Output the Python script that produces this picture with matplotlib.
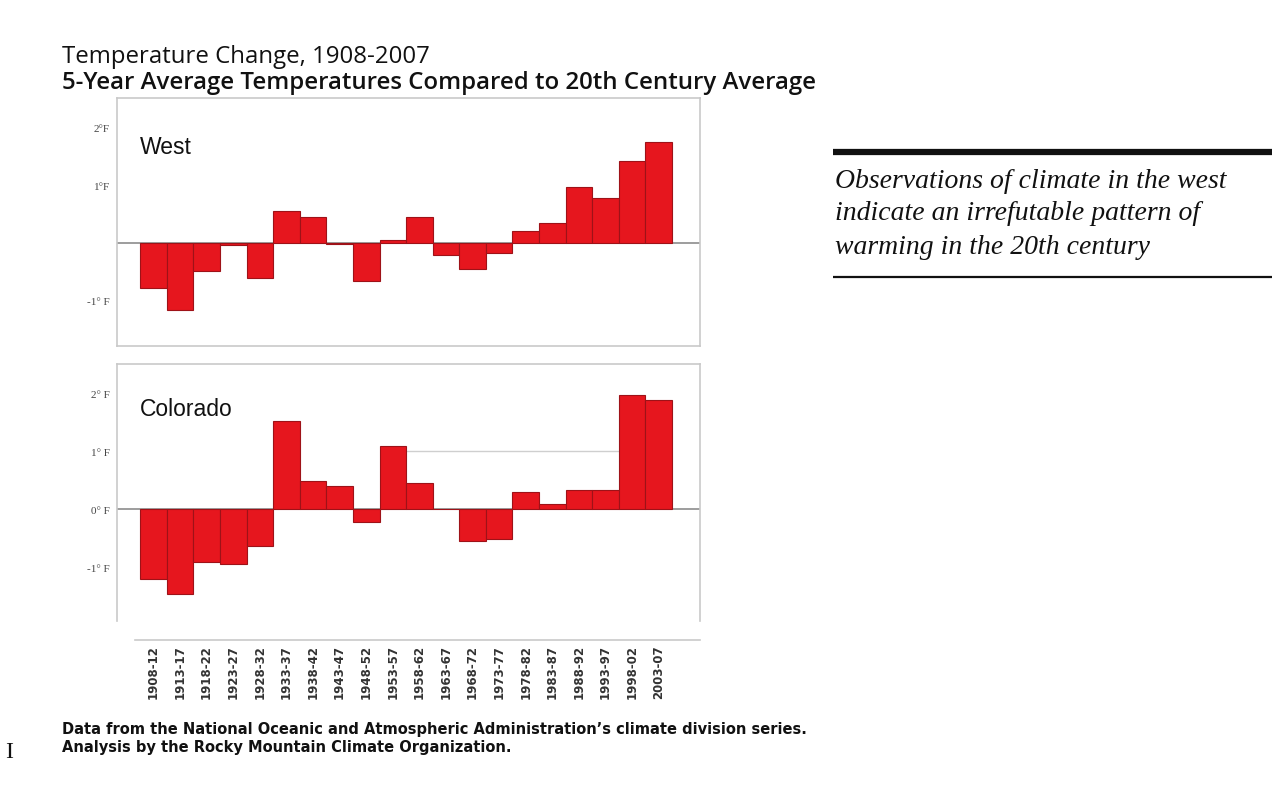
import matplotlib
matplotlib.use("Agg")
import matplotlib.pyplot as plt
from matplotlib.lines import Line2D
import numpy as np

# Five-year periods, 1908-2007
periods = ["1908-12", "1913-17", "1918-22", "1923-27", "1928-32",
           "1933-37", "1938-42", "1943-47", "1948-52", "1953-57",
           "1958-62", "1963-67", "1968-72", "1973-77", "1978-82",
           "1983-87", "1988-92", "1993-97", "1998-02", "2003-07"]

# Departure from the 20th-century average (°F)
west = [-0.78, -1.16, -0.49, -0.03, -0.61, 0.55, 0.46, -0.02, -0.66, 0.06,
        0.46, -0.20, -0.46, -0.17, 0.21, 0.35, 0.97, 0.79, 1.42, 1.75]
colorado = [-1.21, -1.47, -0.92, -0.95, -0.63, 1.52, 0.49, 0.40, -0.23, 1.08,
            0.45, 0.0, -0.55, -0.52, 0.30, 0.09, 0.33, 0.33, 1.97, 1.88]

west_ticks = [2, 1, -1]
west_ticklabels = ["2°F", "1°F", "-1° F"]
co_ticks = [2, 1, 0, -1]
co_ticklabels = ["2° F", "1° F", "0° F", "-1° F"]

W, H = 1282, 804
fig = plt.figure(figsize=(W / 100, H / 100), dpi=100)
fig.patch.set_facecolor("white")


def rect(l, t, r, b):
    return [l / W, 1 - b / H, (r - l) / W, (b - t) / H]


def fy(y):
    return 1 - y / H


BAR = "#e6161e"
EDGE = "#9e1218"
FRAME = "#c9c9c9"
x = np.arange(len(periods))


def panel(r, vals, ylim, ticks, ticklabels):
    ax = fig.add_axes(r)
    ax.bar(x, vals, width=1.0, color=BAR, edgecolor=EDGE, linewidth=0.8, zorder=3)
    ax.axhline(0, color="#8c8c8c", linewidth=1.2, zorder=2)
    ax.set_xlim(-1.37, 20.55)
    ax.set_ylim(*ylim)
    ax.set_yticks(ticks)
    ax.set_yticklabels(ticklabels, fontsize=8, color="#444444",
                       family=["Liberation Serif", "DejaVu Serif"])
    ax.tick_params(axis="y", length=0, pad=5)
    for s in ax.spines.values():
        s.set_color(FRAME)
        s.set_linewidth(1.2)
    return ax


ax1 = panel(rect(117, 99, 700, 347), west, (-1.79, 2.52),
            west_ticks, west_ticklabels)
ax1.set_xticks([])

ax2 = panel(rect(117, 365, 700, 622), colorado, (-1.93, 2.5),
            co_ticks, co_ticklabels)
ax2.axhline(1, xmin=0.48, xmax=0.86, color="#cfcfcf", linewidth=1.0, zorder=1)
ax2.spines["bottom"].set_position(("outward", 13.7))
ax2.spines["bottom"].set_bounds(-0.69, 20.55)
ax2.set_xticks(x)
ax2.set_xticklabels(periods, rotation=90, fontsize=8.5, fontweight="bold",
                    color="#333333", family=["DejaVu Sans"])
ax2.tick_params(axis="x", length=0, pad=3)

# Panel names
fig.text(140 / W, fy(148), "West", fontsize=16.5,
         family=["Liberation Sans", "DejaVu Sans"], color="#111111",
         va="center", ha="left")
fig.text(140 / W, fy(410), "Colorado", fontsize=16.5,
         family=["Liberation Sans", "DejaVu Sans"], color="#111111",
         va="center", ha="left")

# Titles
fig.text(62 / W, fy(57), "Temperature Change, 1908-2007",
         fontsize=17.3, family=["Open Sans", "DejaVu Sans"], color="#111111",
         va="center", ha="left")
fig.text(62 / W, fy(83),
         "5-Year Average Temperatures Compared to 20th Century Average",
         fontsize=17.3, fontweight="semibold", family=["Open Sans", "DejaVu Sans"],
         color="#111111", va="center", ha="left")

# Source notes
fig.text(62 / W, fy(730),
         "Data from the National Oceanic and Atmospheric Administration\u2019s climate division series.",
         fontsize=10.5, fontweight="bold", family=["DejaVu Sans"],
         color="#111111", va="center", ha="left")
fig.text(62 / W, fy(748),
         "Analysis by the Rocky Mountain Climate Organization.",
         fontsize=10.5, fontweight="bold", family=["DejaVu Sans"],
         color="#111111", va="center", ha="left")
fig.text(5 / W, fy(753), "I", fontsize=17,
         family=["Liberation Serif", "DejaVu Serif"], color="#111111",
         va="center", ha="left")

# Pull quote
fig.add_artist(Line2D([833 / W, 1272 / W], [fy(153), fy(153)],
                      transform=fig.transFigure, color="#111111", linewidth=4.5,
                      solid_capstyle="butt"))
fig.add_artist(Line2D([833 / W, 1272 / W], [fy(278), fy(278)],
                      transform=fig.transFigure, color="#111111", linewidth=1.6,
                      solid_capstyle="butt"))
quote = ["Observations of climate in the west",
         "indicate an irrefutable pattern of",
         "warming in the 20th century"]
for i, line in enumerate(quote):
    fig.text(835 / W, fy(181 + 33 * i), line, fontsize=20, style="italic",
             family=["Liberation Serif", "DejaVu Serif"], color="#111111",
             va="center", ha="left")

fig.savefig("out.png", dpi=100, facecolor="white")
